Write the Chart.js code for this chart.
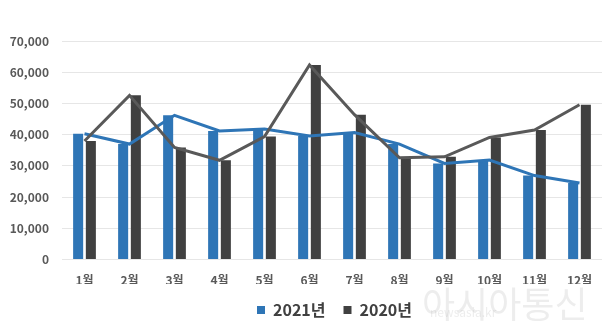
<!DOCTYPE html>
<html lang="ko">
<head>
<meta charset="utf-8">
<script src="https://cdn.jsdelivr.net/npm/chart.js@4"></script>
<style>
  html, body { margin: 0; padding: 0; background: #ffffff; }
  #wrap { width: 603px; height: 336px; position: relative; }
</style>
</head>
<body>
<div id="wrap"><canvas id="monthlyChart"></canvas></div>
<script>
// 월별 데이터
const months = ['1월', '2월', '3월', '4월', '5월', '6월', '7월', '8월', '9월', '10월', '11월', '12월'];
const values2021 = [40300, 37000, 46200, 41200, 41800, 39600, 40700, 37000, 30800, 31900, 26900, 24500];
const values2020 = [38000, 52600, 35900, 31800, 39400, 62300, 46400, 32600, 32900, 39100, 41500, 49600];
const yTicks = [0, 10000, 20000, 30000, 40000, 50000, 60000, 70000];

// 색상
const colors = {
  blue: '#2e75b6',
  dark: '#404040',
  darkLine: '#595959',
  grid: '#e6e6e6',
  text: '#595959'
};

const fontFamily = "'Noto Sans CJK KR', 'Noto Sans', sans-serif";

// 범례를 플롯 영역 기준으로 가운데 정렬
const legendShift = {
  id: 'legendShift',
  beforeDraw(chart) {
    chart.legend.left = chart.chartArea.left + 5;
  }
};

// 워터마크
const watermark = {
  id: 'watermark',
  afterDraw(chart) {
    const ctx = chart.ctx;
    ctx.save();
    ctx.fillStyle = 'rgba(175, 175, 175, 0.22)';
    ctx.textBaseline = 'alphabetic';
    ctx.font = "36px " + fontFamily;
    ctx.fillText('아시아통신', 422, 318);
    ctx.font = "12px " + fontFamily;
    ctx.fillText('newsasia.kr', 430, 317);
    ctx.restore();
  }
};

function createMonthlyChart() {
  const ctx = document.getElementById('monthlyChart').getContext('2d');

  new Chart(ctx, {
    data: {
      labels: months,
      datasets: [
        {
          type: 'line',
          label: '2021년 추이',
          data: values2021,
          borderColor: colors.blue,
          borderWidth: 3,
          pointRadius: 0,
          tension: 0,
          order: 1
        },
        {
          type: 'line',
          label: '2020년 추이',
          data: values2020,
          borderColor: colors.darkLine,
          borderWidth: 3,
          pointRadius: 0,
          tension: 0,
          order: 0
        },
        {
          type: 'bar',
          label: '2021년',
          data: values2021,
          backgroundColor: colors.blue,
          borderWidth: 0,
          categoryPercentage: 0.565,
          barPercentage: 0.79,
          order: 2
        },
        {
          type: 'bar',
          label: '2020년',
          data: values2020,
          backgroundColor: colors.dark,
          borderWidth: 0,
          categoryPercentage: 0.565,
          barPercentage: 0.79,
          order: 3
        }
      ]
    },
    options: {
      responsive: true,
      maintainAspectRatio: false,
      animation: false,
      layout: {
        padding: { top: 41, right: 1, bottom: 8, left: 0 }
      },
      plugins: {
        tooltip: { enabled: false },
        legend: {
          position: 'bottom',
          labels: {
            filter: item => item.text === '2021년' || item.text === '2020년',
            boxWidth: 8,
            boxHeight: 8,
            padding: 18,
            color: colors.dark,
            font: { family: fontFamily, size: 16, weight: 'bold' }
          }
        }
      },
      scales: {
        x: {
          grid: { display: false },
          border: { display: false },
          afterFit: scale => { scale.height -= 10; },
          ticks: {
            color: colors.text,
            padding: 6,
            font: { family: fontFamily, size: 12, weight: 'bold' }
          }
        },
        y: {
          min: 0,
          max: 70000,
          afterFit: scale => { scale.width = 62; },
          afterBuildTicks: scale => { scale.ticks = yTicks.map(v => ({ value: v })); },
          grid: { color: colors.grid, lineWidth: 1, drawTicks: false },
          border: { display: false },
          ticks: {
            color: colors.text,
            padding: 13,
            font: { family: fontFamily, size: 12, weight: 'bold' },
            callback: v => v.toLocaleString('en-US')
          }
        }
      }
    },
    plugins: [legendShift, watermark]
  });
}

createMonthlyChart();
</script>
</body>
</html>
